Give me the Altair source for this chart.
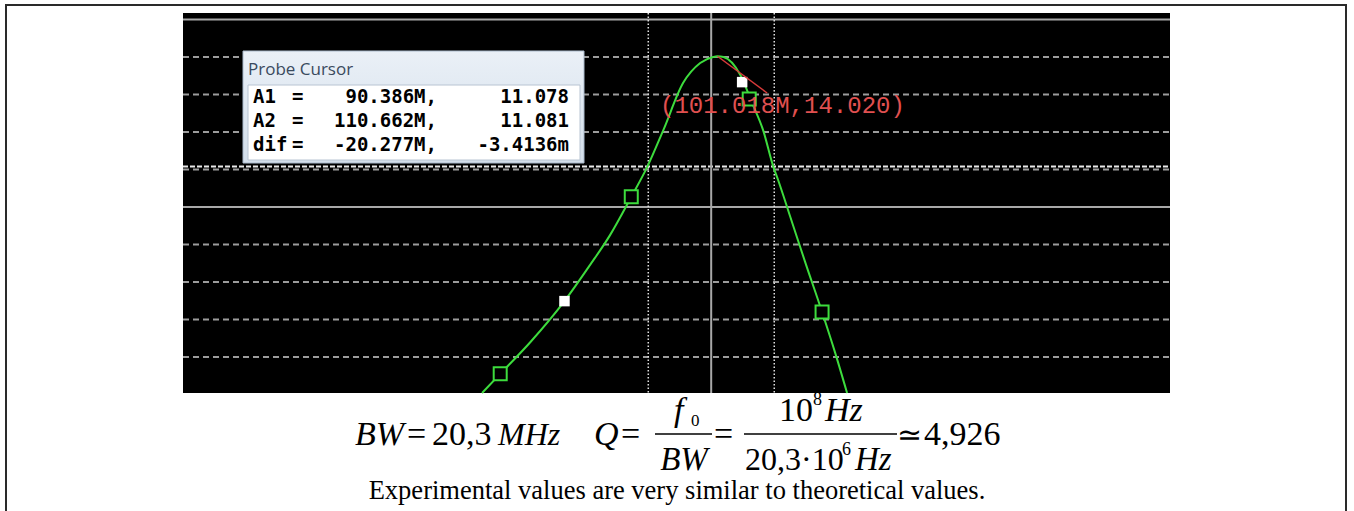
import altair as alt
import pandas as pd

# ---- data (frequency in MHz, log axis; trace value) ----
freq_mhz = [69.2, 71.25, 74.8, 79.0, 82.3, 85.0, 87.95, 90.24, 92.6, 95.6, 98.25,
            100.3, 101.0, 102.0, 104.8, 106.8, 108.7, 110.5, 111.35, 113.5, 116.3,
            119.5, 122.0, 124.4]
trace_val = [5.04, 5.55, 6.40, 7.49, 8.45, 9.25, 10.27, 11.07, 12.05, 13.31, 13.84,
             14.00, 14.02, 14.00, 13.52, 12.77, 12.05, 11.07, 10.72, 9.76, 8.53,
             7.20, 6.13, 5.04]

green_marker_f = [71.25, 87.95, 106.3, 119.5]
green_marker_v = [5.55, 10.27, 12.88, 7.20]
white_marker_f = [79.0, 105.1]
white_marker_v = [7.49, 13.33]

grid_dashed = [6, 7, 8, 9, 11, 12, 13, 14]
grid_solid = [10, 15]
cursor_h = [11.078, 11.081]
cursor_f = [90.386, 110.662]
center_f = [100.0]

pointer_f = [101.018, 109.4]
pointer_v = [14.02, 13.04]
peak_label = "(101.018M,14.020)"

probe_rows = [("A1", "=", "90.386M,", "11.078"),
              ("A2", "=", "110.662M,", "11.081"),
              ("dif", "=", "-20.277M,", "-3.4136m")]

x_dom = [42.8, 209.0]
y_dom = [5.04, 15.173]

GREEN = "#3ddc3d"
GRID = "#9c9c9c"

xs = alt.Scale(type="log", domain=x_dom, range=[183, 1170], nice=False)
ys = alt.Scale(domain=y_dom, range=[393, 13], nice=False, zero=False)

one = pd.DataFrame({"k": [0]})


def box(x1, x2, y1, y2, **kw):
    return alt.Chart(one).mark_rect(**kw).encode(
        x=alt.value(x1), x2=alt.value(x2), y=alt.value(y1), y2=alt.value(y2))


def txt(s, x, y, size=34, italic=False, font="Liberation Serif", align="left",
        baseline="alphabetic", color="black", weight="normal"):
    return alt.Chart(one).mark_text(
        text=s, font=font, fontSize=size, fontStyle="italic" if italic else "normal",
        align=align, baseline=baseline, color=color, fontWeight=weight
    ).encode(x=alt.value(x), y=alt.value(y))


def hline(x1, x2, y, color="black", width=1.5):
    return alt.Chart(one).mark_rule(color=color, strokeWidth=width).encode(
        x=alt.value(x1), x2=alt.value(x2), y=alt.value(y))


layers = []
# page frame
layers.append(box(6, 1346, 5, 560, fillOpacity=0, stroke="#2a2a2a", strokeWidth=2))
# black plot background
layers.append(box(183, 1170, 13, 393, fill="black"))

# grid lines
layers.append(alt.Chart(pd.DataFrame({"v": grid_dashed})).mark_rule(
    color=GRID, strokeWidth=2, strokeDash=[6, 4]).encode(
    y=alt.Y("v:Q", scale=ys, axis=None), x=alt.value(183), x2=alt.value(1170)))
layers.append(alt.Chart(pd.DataFrame({"v": grid_solid})).mark_rule(
    color="#a8a8a8", strokeWidth=2).encode(
    y=alt.Y("v:Q", scale=ys, axis=None), x=alt.value(183), x2=alt.value(1170)))
layers.append(alt.Chart(pd.DataFrame({"v": cursor_h[:1]})).mark_rule(
    color="#e8e8e8", strokeWidth=2, strokeDash=[5, 2]).encode(
    y=alt.Y("v:Q", scale=ys, axis=None), x=alt.value(183), x2=alt.value(1170)))
layers.append(alt.Chart(pd.DataFrame({"f": center_f})).mark_rule(
    color="#a8a8a8", strokeWidth=2).encode(
    x=alt.X("f:Q", scale=xs, axis=None), y=alt.value(13), y2=alt.value(393)))
layers.append(alt.Chart(pd.DataFrame({"f": cursor_f})).mark_rule(
    color="#e0e0e0", strokeWidth=1.5, strokeDash=[1.5, 2]).encode(
    x=alt.X("f:Q", scale=xs, axis=None), y=alt.value(13), y2=alt.value(393)))

# trace
curve_df = pd.DataFrame({"f": freq_mhz, "v": trace_val})
layers.append(alt.Chart(curve_df).mark_line(
    color=GREEN, strokeWidth=2, interpolate="monotone").encode(
    x=alt.X("f:Q", scale=xs, axis=None), y=alt.Y("v:Q", scale=ys, axis=None)))
layers.append(alt.Chart(pd.DataFrame({"f": green_marker_f, "v": green_marker_v})).mark_square(
    size=169, fill="black", stroke=GREEN, strokeWidth=2, opacity=1).encode(
    x=alt.X("f:Q", scale=xs, axis=None), y=alt.Y("v:Q", scale=ys, axis=None)))
layers.append(alt.Chart(pd.DataFrame({"f": white_marker_f, "v": white_marker_v})).mark_square(
    size=110, color="white", opacity=1).encode(
    x=alt.X("f:Q", scale=xs, axis=None), y=alt.Y("v:Q", scale=ys, axis=None)))

# peak pointer + label
layers.append(alt.Chart(pd.DataFrame({"f": pointer_f, "v": pointer_v})).mark_line(
    color="#d83a3a", strokeWidth=1.5).encode(
    x=alt.X("f:Q", scale=xs, axis=None), y=alt.Y("v:Q", scale=ys, axis=None)))
layers.append(txt(peak_label, 660, 106, size=24, font="Liberation Mono",
                  baseline="middle", color="#e05050"))

# probe cursor window
layers.append(box(243, 584, 51, 163,
                  fill=alt.Gradient(gradient="linear",
                                    stops=[alt.GradientStop(color="#eaf0f7", offset=0),
                                           alt.GradientStop(color="#d3deea", offset=1)],
                                    x1=0, x2=0, y1=0, y2=1),
                  stroke="#a9b9cb", strokeWidth=1))
layers.append(box(248, 580, 85, 160, fill="white", stroke="#b8c4d2", strokeWidth=1))
layers.append(txt("Probe Cursor", 248, 70, size=17, font="Open Sans",
                  baseline="middle", color="#3a4a5e"))
for i, (lab, eq, mid, right) in enumerate(probe_rows):
    yy = 97 + 24 * i
    kw = dict(size=19, font="DejaVu Sans Mono", baseline="middle", weight="bold")
    layers.append(txt(lab, 253, yy, **kw))
    layers.append(txt(eq, 292, yy, **kw))
    layers.append(txt(mid, 437, yy, align="right", **kw))
    layers.append(txt(right, 569, yy, align="right", **kw))

# formula line
layers += [
    txt("BW", 355, 445, italic=True),
    txt("=", 407, 445),
    txt("20,3", 432, 445),
    txt("MHz", 498, 445, italic=True, size=32),
    txt("Q", 594, 445, italic=True),
    txt("=", 621, 445),
    hline(655, 712, 434),
    txt("f", 674, 421, italic=True),
    txt("0", 691, 426, size=17),
    txt("BW", 684, 470, italic=True, align="center", size=33),
    txt("=", 714, 445),
    hline(744, 897, 434),
    txt("10", 779, 421),
    txt("8", 813, 405, size=18),
    txt("Hz", 825, 421, italic=True),
    txt("20,3·10", 745, 470, size=32),
    txt("6", 842, 455, size=18),
    txt("Hz", 855, 470, italic=True, size=33),
    txt("≃", 897, 445, size=30),
    txt("4,926", 924, 445),
    txt("Experimental values are very similar to theoretical values.", 677, 499,
        size=26.5, align="center"),
]

chart = alt.layer(*layers).properties(
    width=1354, height=511, autosize=alt.AutoSizeParams(type="none"), padding=0,
    background="white"
).configure_view(strokeWidth=0)

chart.save("out.html", embed_options={"renderer": "svg", "actions": False})
